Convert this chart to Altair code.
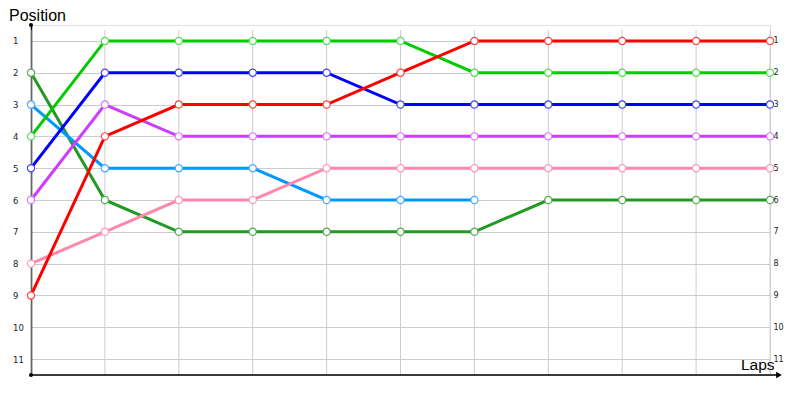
import altair as alt
import pandas as pd

laps = list(range(0, 11))
series_names = ["darkgreen", "lightblue", "pink", "purple", "blue", "green", "red"]
line_colors = ["#229922", "#0099ff", "#ff88aa", "#cc3dff", "#0000ff", "#00cc00", "#ff0000"]
point_colors = ["#55aa55", "#44aaff", "#ff99bb", "#dd77ff", "#4444ff", "#55dd55", "#ff4444"]

darkgreen = [2, 6, 7, 7, 7, 7, 7, 6, 6, 6, 6]
lightblue = [3, 5, 5, 5, 6, 6, 6]
pink = [8, 7, 6, 6, 5, 5, 5, 5, 5, 5, 5]
purple = [6, 3, 4, 4, 4, 4, 4, 4, 4, 4, 4]
blue = [5, 2, 2, 2, 2, 3, 3, 3, 3, 3, 3]
green = [4, 1, 1, 1, 1, 1, 2, 2, 2, 2, 2]
red = [9, 4, 3, 3, 3, 2, 1, 1, 1, 1, 1]

values = [darkgreen, lightblue, pink, purple, blue, green, red]
lap_labels = list(range(1, 11))
positions = list(range(1, 12))

rows = []
for i, (name, vals) in enumerate(zip(series_names, values)):
    for lap, pos in zip(laps, vals):
        rows.append({"series": name, "lap": lap, "pos": pos, "order": i})
df = pd.DataFrame(rows)

FONT = "DejaVu Sans"
TFONT = "Liberation Sans"
W, H = 739, 350

xscale = alt.Scale(domain=[0, 10], nice=False, zero=False)
yscale = alt.Scale(domain=[0.5, 11.5], reverse=True, nice=False, zero=False)

base = alt.Chart(df)

grid_left = alt.Chart(pd.DataFrame({"pos": positions})).mark_rule(opacity=0).encode(
    y=alt.Y("pos:Q", scale=yscale,
            axis=alt.Axis(values=positions, grid=True, gridColor="#cccccc", gridWidth=1,
                          ticks=False, domain=True, domainColor="black", domainWidth=1.5,
                          labelAlign="left", labelPadding=18.5, labelFont=FONT,
                          labelFontSize=8.5, labelColor="#222", title=None, orient="left")),
)
right_axis = alt.Chart(pd.DataFrame({"pos": positions})).mark_rule(opacity=0).encode(
    y=alt.Y("pos:Q", scale=yscale,
            axis=alt.Axis(values=positions, grid=False, ticks=False, domain=False,
                          labelAlign="left", labelPadding=3, labelFont=FONT,
                          labelFontSize=8, labelColor="#222", title=None, orient="right")),
)

vgrid = alt.Chart(pd.DataFrame({"lap": laps})).mark_rule(color="#cccccc", strokeWidth=1).encode(
    x=alt.X("lap:Q", scale=xscale,
            axis=alt.Axis(values=[l - 0.5 for l in lap_labels],
                          labelExpr="format(datum.value + 0.5, 'd')",
                          grid=False, ticks=False, domain=False, labelFont=FONT,
                          labelFontSize=10.5, labelColor="#222", labelPadding=8, title=None)),
    y=alt.value(5),
    y2=alt.value(H),
)

bottom_line = alt.Chart(pd.DataFrame({"a": [0]})).mark_rule(color="black", strokeWidth=1.5).encode(
    x=alt.value(0), x2=alt.value(748), y=alt.value(H)
)
arrow = alt.Chart(pd.DataFrame({"a": [0]})).mark_point(
    shape="triangle-right", filled=True, color="black", size=45, opacity=1
).encode(x=alt.value(748), y=alt.value(H))
dots = alt.Chart(pd.DataFrame({"a": [0, 1]})).mark_circle(color="black", size=16, opacity=1).encode(
    x=alt.value(0), y=alt.Y("a:Q", scale=alt.Scale(domain=[0, 1], range=[0, H]), axis=None)
)

lines = base.mark_line(strokeWidth=3).encode(
    x=alt.X("lap:Q", scale=xscale, axis=None),
    y=alt.Y("pos:Q", scale=yscale, axis=None),
    color=alt.Color("series:N", scale=alt.Scale(domain=series_names, range=line_colors), legend=None),
    detail="series:N",
    order="lap:Q",
)
points = base.mark_circle(fill="white", fillOpacity=1, opacity=1, size=52, strokeWidth=1.2).encode(
    x=alt.X("lap:Q", scale=xscale, axis=None),
    y=alt.Y("pos:Q", scale=yscale, axis=None),
    stroke=alt.Stroke("series:N", scale=alt.Scale(domain=series_names, range=point_colors), legend=None),
)

pos_title = alt.Chart(pd.DataFrame({"t": ["Position"]})).mark_text(
    font=TFONT, fontSize=16, align="left", baseline="alphabetic", color="black"
).encode(x=alt.value(-22), y=alt.value(-4), text="t:N")
laps_title = alt.Chart(pd.DataFrame({"t": ["Laps"]})).mark_text(
    font=TFONT, fontSize=15.5, align="left", baseline="alphabetic", color="black"
).encode(x=alt.value(710), y=alt.value(H - 5), text="t:N")

chart = alt.layer(
    grid_left, right_axis, vgrid, bottom_line, arrow, dots, lines, points, pos_title, laps_title
).resolve_axis(y="independent").resolve_scale(y="independent").properties(
    width=W, height=H,
    autosize=alt.AutoSizeParams(type="none"),
    padding={"left": 23, "top": 17, "right": 14, "bottom": 18},
).configure_view(stroke=None).configure(background="white")

chart.save("out.html", embed_options={"renderer": "svg", "actions": False})
